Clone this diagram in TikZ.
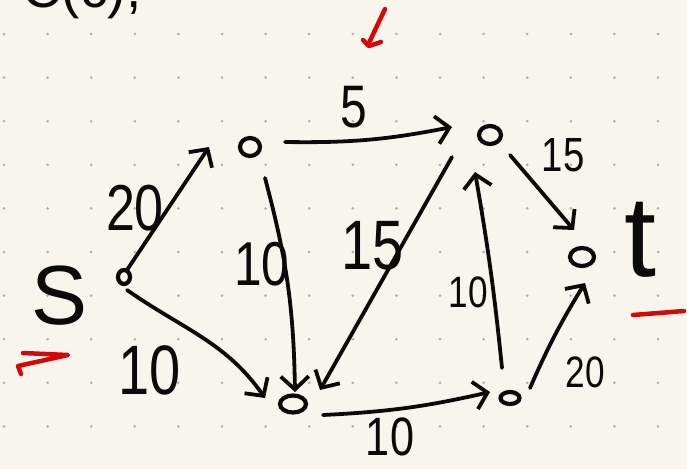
\documentclass[tikz,border=0pt]{standalone}
\usepackage{fontspec}
\setmainfont{Liberation Sans}
\usetikzlibrary{arrows.meta,shapes.geometric}
\definecolor{paper}{RGB}{248,246,236}
\definecolor{griddot}{RGB}{178,178,172}
\definecolor{ink}{RGB}{10,10,10}
\definecolor{redink}{RGB}{212,8,8}
\newcommand\hwnum[2]{\fontsize{#1}{#1}\selectfont\scalebox{0.8}[1]{#2}}
\begin{document}
\begin{tikzpicture}[x=1pt,y=-1pt,
  vtx/.style={ellipse,draw=ink,line width=4.2pt,inner sep=0pt},
  edge/.style={draw=ink,line width=3.8pt,line cap=round,-{Straight Barb[length=13pt,width=28pt,line width=3.8pt]}},
  lbl/.style={text=ink,inner sep=0pt},
  redmark/.style={draw=redink,line width=4.5pt,line cap=round,line join=round}]
\useasboundingbox (0,0) rectangle (687,469);
\fill[paper] (0,0) rectangle (687,469);
\begin{scope}
\clip (0,0) rectangle (687,469);
\foreach \i in {0,...,15}{\foreach \j in {0,...,9}{\fill[griddot] (4+43.6*\i,34+43.6*\j) circle (1.5);}}
\node[lbl,anchor=base west,font=\fontsize{55}{55}\selectfont] (hdr) at (22,7) {C(c),};
\end{scope}
% vertices
\node[vtx,minimum width=12pt,minimum height=14pt] (s) at (124,277) {};
\node[vtx,minimum width=20pt,minimum height=18pt] (a) at (250,147) {};
\node[vtx,minimum width=22pt,minimum height=18pt] (b) at (490,135) {};
\node[vtx,minimum width=26pt,minimum height=17pt] (c) at (293,404) {};
\node[vtx,minimum width=19pt,minimum height=12pt] (d) at (510,398) {};
\node[vtx,minimum width=24pt,minimum height=18pt] (t) at (582,257) {};
% vertex names
\node[lbl,font=\fontsize{84}{84}\selectfont] (sname) at (60,296) {S};
\node[lbl,font=\fontsize{115}{115}\selectfont] (tname) at (640,240) {t};
% edges
\draw[edge] ([shift={(3,-7)}]s.center) -- ([shift={(-41,0)}]a.center);
\draw[edge] ([shift={(35,-5)}]a.center) to[bend right=6] ([shift={(-38,-8)}]b.center);
\draw[edge] ([shift={(15,31)}]a.center) to[bend left=7] ([shift={(2,-12)}]c.center);
\draw[edge] ([shift={(3,13)}]s.center) to[out=-35,in=125] ([shift={(-28,-6)}]c.center);
\draw[edge] ([shift={(-38,22)}]b.center) -- ([shift={(27,-14)}]c.center);
\draw[edge] ([shift={(20,20)}]b.center) -- ([shift={(-8,-27)}]t.center);
\draw[edge] ([shift={(30,11)}]c.center) to[bend right=5] ([shift={(-20,-6)}]d.center);
\draw[edge] ([shift={(-8,-30)}]d.center) to[bend right=2] ([shift={(-15,37)}]b.center);
\draw[edge] ([shift={(20,-10)}]d.center) to[bend left=4] ([shift={(3,26)}]t.center);
% weights
\node[lbl] (w1) at (135,208) {\hwnum{65}{20}};
\node[lbl] (w2) at (354,107) {\hwnum{60}{5}};
\node[lbl] (w3) at (262,264) {\hwnum{62}{10}};
\node[lbl] (w4) at (150,370) {\hwnum{70}{10}};
\node[lbl] (w5) at (373,246) {\hwnum{70}{15}};
\node[lbl] (w6) at (563,155) {\hwnum{48}{15}};
\node[lbl] (w7) at (468,292) {\hwnum{44}{10}};
\node[lbl] (w8) at (390,437) {\hwnum{54}{10}};
\node[lbl] (w9) at (585,372) {\hwnum{44}{20}};
% red marks
\draw[redmark] (385,9) -- (368,45);
\draw[redmark] (363,40) -- (369,46) -- (381,42);
\draw[redmark] (23,353) -- (68,355) -- (18,366) -- (21,374);
\draw[redmark] (633,315) -- (684,311);
\end{tikzpicture}
\end{document}
